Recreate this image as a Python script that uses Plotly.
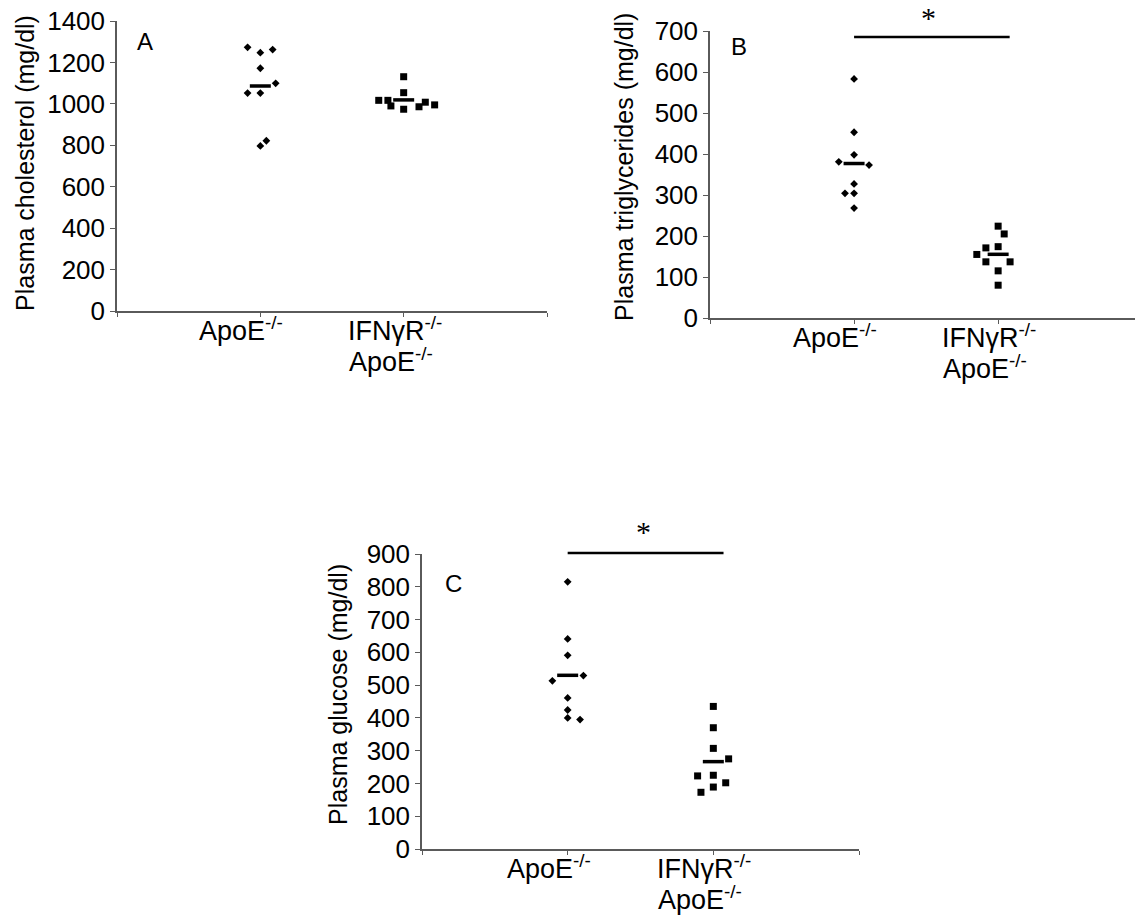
import numpy as np
import plotly.graph_objects as go

W, H = 1135, 924

cat_line1 = ["ApoE<sup>-/-</sup>", "IFNγR<sup>-/-</sup>"]
cat_line2 = ["", "ApoE<sup>-/-</sup>"]
cat_pos = [1, 2]

# Panel A: plasma cholesterol (mg/dl)
chol_apoe = [1273, 1247, 1262, 1172, 1099, 1052, 1052, 822, 797]
chol_apoe_dx = [-0.089, 0, 0.086, 0, 0.107, -0.089, 0, 0.042, 0]
chol_ifn = [1131, 1054, 1017, 1017, 990, 974, 986, 1008, 995]
chol_ifn_dx = [0, 0, -0.174, -0.11, -0.089, 0, 0.107, 0.151, 0.216]

# Panel B: plasma triglycerides (mg/dl)
tg_apoe = [583, 453, 398, 381, 373, 327, 304, 304, 268]
tg_apoe_dx = [0, 0, 0, -0.106, 0.104, 0, -0.063, 0, 0]
tg_ifn = [224, 205, 174, 171, 155, 137, 137, 115, 80]
tg_ifn_dx = [0, 0.042, 0, -0.085, -0.148, -0.085, 0.083, 0, 0]

# Panel C: plasma glucose (mg/dl)
glu_apoe = [815, 641, 591, 529, 513, 461, 424, 400, 395]
glu_apoe_dx = [0, 0, 0, 0.108, -0.105, 0, 0, 0, 0.085]
glu_ifn = [435, 370, 307, 275, 223, 225, 202, 189, 173]
glu_ifn_dx = [0, 0, 0, 0.105, -0.108, 0, 0.085, 0, -0.085]

y_titles = ["Plasma cholesterol (mg/dl)", "Plasma triglycerides (mg/dl)", "Plasma glucose (mg/dl)"]
panel_letters = ["A", "B", "C"]

FONT = "Liberation Sans, Arial, sans-serif"
SERIF = "Liberation Serif, Times New Roman, serif"
AX = "#5a5a5a"

fig = go.Figure()

panels = [
    ("x", "y", chol_apoe, chol_apoe_dx, chol_ifn, chol_ifn_dx),
    ("x2", "y2", tg_apoe, tg_apoe_dx, tg_ifn, tg_ifn_dx),
    ("x3", "y3", glu_apoe, glu_apoe_dx, glu_ifn, glu_ifn_dx),
]

for xa, ya, a, adx, b, bdx in panels:
    fig.add_trace(go.Scatter(
        x=[cat_pos[0] + d for d in adx], y=a, mode="markers", xaxis=xa, yaxis=ya,
        marker=dict(symbol="diamond", size=6, color="black"), showlegend=False, cliponaxis=False))
    fig.add_trace(go.Scatter(
        x=[cat_pos[1] + d for d in bdx], y=b, mode="markers", xaxis=xa, yaxis=ya,
        marker=dict(symbol="square", size=7, color="black"), showlegend=False, cliponaxis=False))
    fig.add_trace(go.Scatter(
        x=cat_pos, y=[float(np.mean(a)), float(np.mean(b))], mode="markers", xaxis=xa, yaxis=ya,
        marker=dict(symbol="line-ew", size=15, line=dict(width=3.5, color="black")),
        showlegend=False, cliponaxis=False))

def px(v):
    return v / W

def py(v):
    return 1 - v / H

tickfont = dict(family=FONT, size=26, color="black")
catfont = dict(family=FONT, size=27, color="black")

def xaxis(dom, rng, tv, anchor):
    return dict(domain=dom, range=rng, anchor=anchor, showgrid=False, zeroline=False,
                automargin=False, showline=True, linecolor=AX, linewidth=1.5,
                ticks="outside", ticklen=4, tickcolor=AX, tickvals=tv,
                showticklabels=False)

def yaxis(dom, rng, dt, anchor):
    return dict(domain=dom, range=rng, anchor=anchor, showgrid=False, zeroline=False,
                automargin=False, showline=True, linecolor=AX, linewidth=1.5,
                ticks="outside", ticklen=5, tickcolor=AX, dtick=dt, tickfont=tickfont)

fig.update_layout(
    width=W, height=H, margin=dict(l=0, r=0, t=0, b=0, autoexpand=False),
    plot_bgcolor="white", paper_bgcolor="white",
    xaxis=xaxis([px(117), px(547)], [0, 3], [0, 1, 2, 3], "y"),
    yaxis=yaxis([py(311), py(21)], [0, 1400], 200, "x"),
    xaxis2=xaxis([px(710), 1.0], [0, 2.95], [0, 1, 2], "y2"),
    yaxis2=yaxis([py(318), py(31)], [0, 700], 100, "x2"),
    xaxis3=xaxis([px(422), px(859)], [0, 3], [0, 1, 2, 3], "y3"),
    yaxis3=yaxis([py(849), py(554)], [0, 900], 100, "x3"),
)

# category labels (two lines, placed under each x axis)
shift1 = [-19, -9]
shift2 = [0, -13]
for xa, base in [("x", 311), ("x2", 318), ("x3", 849)]:
    for pos, l1, l2, s1, s2 in zip(cat_pos, cat_line1, cat_line2, shift1, shift2):
        fig.add_annotation(x=pos, y=py(base + 18), xref=xa, yref="paper", text=l1, xshift=s1,
                           xanchor="center", yanchor="middle", showarrow=False, font=catfont)
        if l2:
            fig.add_annotation(x=pos, y=py(base + 49), xref=xa, yref="paper", text=l2, xshift=s2,
                               xanchor="center", yanchor="middle", showarrow=False, font=catfont)

# y-axis titles
for (cx, cy), t in zip([(25, 163), (624, 167), (338, 695)], y_titles):
    fig.add_annotation(x=px(cx), y=py(cy), xref="paper", yref="paper", text=t, textangle=-90,
                       xanchor="center", yanchor="middle",
                       showarrow=False, font=dict(family=FONT, size=25, color="black"))

# panel letters
for (cx, cy), t in zip([(145, 42), (739, 46), (453, 583)], panel_letters):
    fig.add_annotation(x=px(cx), y=py(cy), xref="paper", yref="paper", text=t,
                       xanchor="center", yanchor="middle",
                       showarrow=False, font=dict(family=FONT, size=24, color="black"))

# significance bars
fig.add_shape(type="line", xref="x2", yref="paper", x0=1.0, x1=2.08, y0=py(37), y1=py(37),
              line=dict(color="black", width=2.5))
fig.add_shape(type="line", xref="x3", yref="paper", x0=1.0, x1=2.07, y0=py(553), y1=py(553),
              line=dict(color="black", width=2.5))
fig.add_annotation(x=1.52, y=py(17), xref="x2", yref="paper", text="*", showarrow=False,
                   xanchor="center", yanchor="middle",
                   font=dict(family=SERIF, size=30, color="black"))
fig.add_annotation(x=1.52, y=py(531), xref="x3", yref="paper", text="*", showarrow=False,
                   xanchor="center", yanchor="middle",
                   font=dict(family=SERIF, size=30, color="black"))

fig.write_html("out.html", config={"displayModeBar": False},
               post_script="document.body.style.margin='0';document.body.style.overflow='hidden';")
